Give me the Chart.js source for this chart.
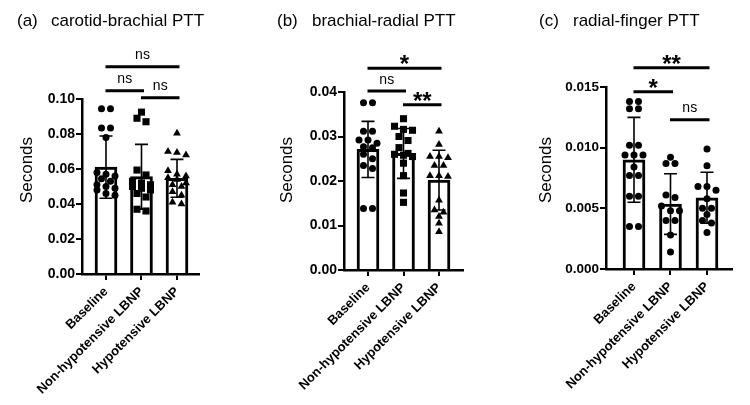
<!DOCTYPE html>
<html>
<head>
<meta charset="utf-8">
<script src="https://cdn.jsdelivr.net/npm/chart.js@4/dist/chart.umd.min.js"></script>
<style>
  html, body { margin: 0; padding: 0; background: #fff; }
  #wrap { position: relative; width: 750px; height: 405px; }
  canvas { position: absolute; left: 0; top: 0; }
</style>
</head>
<body>
<div id="wrap">
  <canvas id="ca" width="750" height="405"></canvas>
  <canvas id="cb" width="750" height="405"></canvas>
  <canvas id="cc" width="750" height="405"></canvas>
</div>
<script>
const groups = ['Baseline', 'Non-hypotensive LBNP', 'Hypotensive LBNP'];

// (a) carotid-brachial PTT (seconds)
const cbBaseline = [0.0945, 0.0945, 0.0835, 0.0835, 0.0780, 0.0580, 0.0570, 0.0560, 0.0545, 0.0530, 0.0510, 0.0500, 0.0490, 0.0480, 0.0460, 0.0450];
const cbNonHypo = [0.0925, 0.0890, 0.0870, 0.0594, 0.0566, 0.0530, 0.0520, 0.0510, 0.0500, 0.0490, 0.0480, 0.0460, 0.0440, 0.0370, 0.0360];
const cbHypo = [0.0804, 0.0700, 0.0695, 0.0680, 0.0590, 0.0570, 0.0560, 0.0550, 0.0540, 0.0520, 0.0510, 0.0500, 0.0470, 0.0450, 0.0410, 0.0400];
const cbMean = [0.0611, 0.0556, 0.0547];
const cbSD = [0.0178, 0.0185, 0.0108];
const cbTicks = [0, 0.02, 0.04, 0.06, 0.08, 0.10];
const cbSig = [[0, 2, 'ns', 0.1185], [0, 1, 'ns', 0.1047], [1, 2, 'ns', 0.1007]];

// (b) brachial-radial PTT
const brBaseline = [0.0376, 0.0376, 0.0312, 0.0312, 0.0292, 0.0292, 0.0285, 0.0277, 0.0275, 0.0260, 0.0250, 0.0235, 0.0228, 0.0138, 0.0138];
const brNonHypo = [0.0340, 0.0323, 0.0316, 0.0314, 0.0300, 0.0291, 0.0275, 0.0262, 0.0260, 0.0258, 0.0255, 0.0240, 0.0212, 0.0173, 0.0152];
const brHypo = [0.0312, 0.0282, 0.0255, 0.0255, 0.0252, 0.0235, 0.0235, 0.0212, 0.0212, 0.0210, 0.0157, 0.0135, 0.0130, 0.0120, 0.0105, 0.0086];
const brMean = [0.0271, 0.0262, 0.0202];
const brSD = [0.0063, 0.0056, 0.0067];
const brTicks = [0, 0.01, 0.02, 0.03, 0.04];
const brSig = [[0, 2, '*', 0.04536], [0, 1, 'ns', 0.0402], [1, 2, '**', 0.03715]];

// (c) radial-finger PTT
const rfBaseline = [0.0138, 0.0138, 0.0132, 0.0132, 0.0102, 0.0102, 0.0094, 0.0094, 0.0094, 0.0084, 0.0077, 0.0077, 0.0060, 0.0060, 0.0035, 0.0035];
const rfNonHypo = [0.0092, 0.0087, 0.0087, 0.0061, 0.0059, 0.0052, 0.0048, 0.0048, 0.0040, 0.0040, 0.0028, 0.0014];
const rfHypo = [0.0099, 0.0085, 0.0068, 0.0068, 0.0065, 0.0058, 0.0050, 0.0050, 0.0045, 0.0040, 0.0038, 0.0030];
const rfMean = [0.0090, 0.00535, 0.00587];
const rfSD = [0.0035, 0.0025, 0.0021];
const rfTicks = [0, 0.005, 0.010, 0.015];
const rfSig = [[0, 2, '**', 0.01659], [0, 1, '*', 0.0146], [1, 2, 'ns', 0.01231]];

const FONT = '"Liberation Sans", Arial, sans-serif';
Chart.defaults.font.family = FONT;
Chart.defaults.color = '#000';

// spread points sideways in rows, like a column scatter
function swarm(vals, center, pxY, pxX) {
  const pts = [];
  let row = [];
  const flush = () => {
    row.forEach((v, k) => pts.push({ x: center + (k - (row.length - 1) / 2) * 9 / pxX, y: v }));
    row = [];
  };
  vals.forEach(v => {
    if (row.length && ((row[0] - v) * pxY > 6 || row.length === 3)) flush();
    row.push(v);
  });
  flush();
  return pts;
}

function panel(id, p) {
  const yMax = p.ticks[p.ticks.length - 1];
  const pxY = (p.area.bottom - p.area.top) / yMax;
  const pxX = (p.area.right - p.area.left) / (p.xMax - p.xMin);

  const marks = {
    id: 'marks' + id,
    afterDatasetDraw(chart, args) {
      if (args.index !== 0) return;
      const { ctx, scales: { x, y } } = chart;
      ctx.save();
      ctx.strokeStyle = '#000';
      ctx.lineWidth = 1.6;
      p.mean.forEach((m, i) => {
        const cx = x.getPixelForValue(i);
        const t = y.getPixelForValue(m + p.sd[i]);
        const b = y.getPixelForValue(m - p.sd[i]);
        ctx.beginPath();
        ctx.moveTo(cx, t); ctx.lineTo(cx, b);
        ctx.moveTo(cx - 6.5, t); ctx.lineTo(cx + 6.5, t);
        ctx.moveTo(cx - 6.5, b); ctx.lineTo(cx + 6.5, b);
        ctx.stroke();
      });
      ctx.restore();
    },
    afterDraw(chart) {
      const { ctx, scales: { x, y } } = chart;
      ctx.save();
      ctx.fillStyle = '#000';
      ctx.strokeStyle = '#000';
      ctx.font = '17px ' + FONT;
      ctx.textAlign = 'left';
      ctx.textBaseline = 'alphabetic';
      ctx.fillText(p.tag, p.tagX, 26);
      ctx.fillText(p.title, p.titleX, 26);

      ctx.save();
      ctx.translate(p.yTitleX, 170);
      ctx.rotate(-Math.PI / 2);
      ctx.textAlign = 'center';
      ctx.textBaseline = 'middle';
      ctx.fillText('Seconds', 0, 0);
      ctx.restore();

      p.sig.forEach(([i, j, label, v]) => {
        const x0 = x.getPixelForValue(i) - 0.5;
        const x1 = x.getPixelForValue(j) + 2.5;
        const yy = y.getPixelForValue(v);
        ctx.lineWidth = 3;
        ctx.beginPath();
        ctx.moveTo(x0, yy); ctx.lineTo(x1, yy);
        ctx.stroke();
        const star = label !== 'ns';
        ctx.font = star ? 'bold 24px ' + FONT : '14px ' + FONT;
        ctx.textAlign = 'center';
        ctx.fillText(label, (x0 + x1) / 2, star ? yy + 4 : yy - 7.5);
      });
      ctx.restore();
    }
  };

  const pointOpts = (style, r) => ({
    type: 'scatter', order: 1, pointStyle: style, pointRadius: r, pointHoverRadius: r,
    backgroundColor: '#000', borderWidth: 0, showLine: false
  });

  new Chart(document.getElementById(id), {
    type: 'bar',
    data: {
      datasets: [
        {
          data: p.mean.map((m, i) => ({ x: i, y: m })),
          order: 3, barThickness: 22, backgroundColor: '#fff',
          borderColor: '#000', borderWidth: 3
        },
        Object.assign(pointOpts(p.styles[0], p.sizes[0]), { data: swarm(p.groupsVals[0], 0, pxY, pxX) }),
        Object.assign(pointOpts(p.styles[1], p.sizes[1]), { data: swarm(p.groupsVals[1], 1, pxY, pxX) }),
        Object.assign(pointOpts(p.styles[2], p.sizes[2]), { data: swarm(p.groupsVals[2], 2, pxY, pxX) })
      ]
    },
    options: {
      responsive: false,
      animation: false,
      devicePixelRatio: 1,
      layout: {
        padding: {
          left: p.area.left - 70, right: 750 - p.area.right,
          top: p.area.top, bottom: 405 - p.area.bottom - 128
        }
      },
      plugins: { legend: { display: false }, tooltip: { enabled: false } },
      scales: {
        x: {
          type: 'linear', min: p.xMin, max: p.xMax, offset: false,
          afterFit: s => { s.height = 128; },
          afterBuildTicks: s => { s.ticks = groups.map((g, i) => ({ value: i })); },
          ticks: {
            autoSkip: false, maxRotation: 45, minRotation: 45, padding: 4,
            font: { size: 13, weight: 'bold' },
            callback: v => groups[v]
          },
          grid: { offset: false, drawOnChartArea: false, color: '#000', lineWidth: 2, tickLength: 6 },
          border: { color: '#000', width: 2.5 }
        },
        y: {
          min: 0, max: yMax,
          afterFit: s => { s.width = 70; },
          afterBuildTicks: s => { s.ticks = p.ticks.map(v => ({ value: v })); },
          ticks: {
            padding: 1, font: { size: p.tickSize, weight: 'bold' },
            callback: v => v.toFixed(p.dec)
          },
          grid: { drawOnChartArea: false, color: '#000', lineWidth: 2, tickLength: 6 },
          border: { color: '#000', width: 2.5 }
        }
      }
    },
    plugins: [marks]
  });
}

panel('ca', {
  area: { left: 82, right: 199, top: 99, bottom: 274 }, xMin: -0.676, xMax: 2.62,
  ticks: cbTicks, dec: 2, tickSize: 14,
  mean: cbMean, sd: cbSD, sig: cbSig,
  groupsVals: [cbBaseline, cbNonHypo, cbHypo],
  styles: ['circle', 'rect', 'triangle'], sizes: [3.5, 5, 4.5],
  tag: '(a)', tagX: 17, title: 'carotid-brachial PTT', titleX: 51, yTitleX: 27.5
});

panel('cb', {
  area: { left: 344, right: 463, top: 92, bottom: 270 }, xMin: -0.676, xMax: 2.676,
  ticks: brTicks, dec: 2, tickSize: 14,
  mean: brMean, sd: brSD, sig: brSig,
  groupsVals: [brBaseline, brNonHypo, brHypo],
  styles: ['circle', 'rect', 'triangle'], sizes: [3.5, 5, 4.5],
  tag: '(b)', tagX: 277, title: 'brachial-radial PTT', titleX: 312, yTitleX: 287.5
});

panel('cc', {
  area: { left: 606, right: 732, top: 87, bottom: 269 }, xMin: -0.767, xMax: 2.685,
  ticks: rfTicks, dec: 3, tickSize: 13.5,
  mean: rfMean, sd: rfSD, sig: rfSig,
  groupsVals: [rfBaseline, rfNonHypo, rfHypo],
  styles: ['circle', 'circle', 'circle'], sizes: [3.5, 3.5, 3.5],
  tag: '(c)', tagX: 539, title: 'radial-finger PTT', titleX: 573, yTitleX: 546.5
});
</script>
</body>
</html>
